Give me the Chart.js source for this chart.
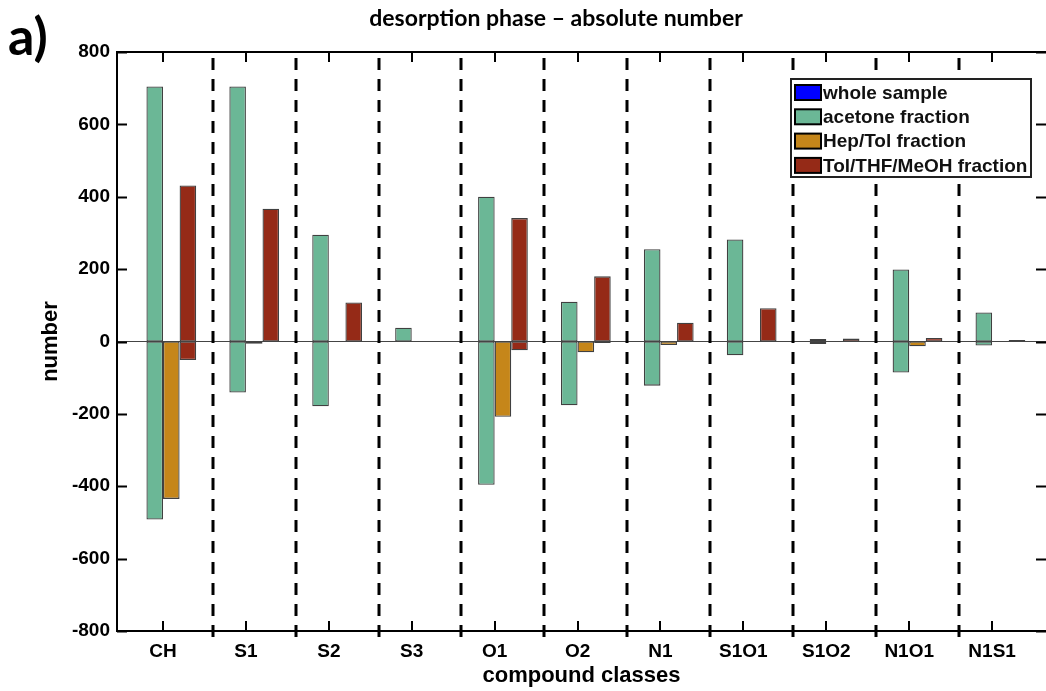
<!DOCTYPE html>
<html>
<head>
<meta charset="utf-8">
<title>desorption phase – absolute number</title>
<script src="https://cdn.jsdelivr.net/npm/chart.js@4.4.0/dist/chart.umd.min.js"></script>
<style>
  html, body { margin: 0; padding: 0; background: #fff; }
  .chart__container { position: relative; width: 1046px; height: 691px; }
</style>
</head>
<body>
<div class="chart__container"><canvas id="desorptionChart" width="1046" height="691"></canvas></div>
<script>
// compound classes on the x axis
const categories = ['CH', 'S1', 'S2', 'S3', 'O1', 'O2', 'N1', 'S1O1', 'S1O2', 'N1O1', 'N1S1'];

// gained (positive) and lost (negative) numbers per fraction
const wholeSample = [0, 0, 0, 0, 0, 0, 0, 0, 0, 0, 0];
const acetonePos = [705, 705, 295, 38, 400, 110, 255, 282, 7, 199, 80];
const acetoneNeg = [-492, -141, -179, 0, -396, -176, -122, -38, -7, -86, -11];
const hepTolPos = [0, 0, 0, 0, 0, 0, 0, 0, 0, 0, 0];
const hepTolNeg = [-435, -6, 0, 0, -208, -30, -10, 0, 0, -13, 0];
const tolThfPos = [431, 367, 108, 0, 341, 180, 52, 92, 8, 10, 4];
const tolThfNeg = [-51, 0, 0, 0, -24, -4, 0, 0, 0, 0, 0];

const yTicks = [-800, -600, -400, -200, 0, 200, 400, 600, 800];

const seriesNames = ['whole sample', 'acetone fraction', 'Hep/Tol fraction', 'Tol/THF/MeOH fraction'];
const seriesColors = ['#0000ff', '#6bb796', '#c5861a', '#952a17'];

const tickFont = { family: '"Liberation Sans", Arial, sans-serif', weight: 'bold', size: 19 };
const labelFont = { family: '"Liberation Sans", Arial, sans-serif', weight: 'bold', size: 22 };

// dashed separators sit a bit right of the middle between two classes
const dividerOffset = 0.6;

document.addEventListener('DOMContentLoaded', function () {
  createChart();
});

function toPoints(values) {
  return values.map((v, i) => ({ x: i + 1, y: v === 0 ? null : v }));
}

function barSet(label, values, color, stack) {
  return {
    label: label,
    data: toPoints(values),
    backgroundColor: color,
    borderColor: 'rgba(30,30,30,0.85)',
    borderWidth: 1.3,
    borderSkipped: false,
    stack: stack,
    categoryPercentage: 0.8,
    barPercentage: 1,
  };
}

// frame, dashed separators, zero line, legend and headings
const decorations = {
  id: 'decorations',
  afterDatasetsDraw(chart) {
    const { ctx, chartArea: area, scales } = chart;
    const x = scales.x;
    const y = scales.y;

    // zero line
    ctx.save();
    ctx.strokeStyle = '#444';
    ctx.lineWidth = 1.2;
    ctx.beginPath();
    ctx.moveTo(area.left, y.getPixelForValue(0));
    ctx.lineTo(area.right, y.getPixelForValue(0));
    ctx.stroke();

    // dashed separators between classes
    ctx.strokeStyle = '#000';
    ctx.lineWidth = 3;
    ctx.setLineDash([12, 9]);
    for (let i = 1; i < categories.length; i++) {
      const px = Math.round(x.getPixelForValue(i + dividerOffset));
      ctx.beginPath();
      ctx.moveTo(px, area.top + 6);
      ctx.lineTo(px, area.bottom + 6);
      ctx.stroke();
    }
    ctx.setLineDash([]);
    ctx.restore();

    drawLegend(ctx);
  },
  afterDraw(chart) {
    const { ctx, chartArea: area, scales } = chart;
    const x = scales.x;
    const y = scales.y;
    ctx.save();
    ctx.strokeStyle = '#000';
    ctx.lineWidth = 2;
    ctx.beginPath();
    ctx.moveTo(area.right + 2, area.top);
    ctx.lineTo(area.left, area.top);
    ctx.lineTo(area.left, area.bottom);
    ctx.lineTo(area.right + 2, area.bottom);
    ctx.stroke();

    // inward ticks on all four sides
    ctx.beginPath();
    yTicks.forEach(v => {
      const py = Math.round(y.getPixelForValue(v)) + 0.5;
      ctx.moveTo(area.left, py);
      ctx.lineTo(area.left + 10, py);
      ctx.moveTo(area.right, py);
      ctx.lineTo(area.right - 10, py);
    });
    categories.forEach((c, i) => {
      const px = Math.round(x.getPixelForValue(i + 1));
      ctx.moveTo(px, area.bottom);
      ctx.lineTo(px, area.bottom - 10);
      ctx.moveTo(px, area.top);
      ctx.lineTo(px, area.top + 10);
    });
    ctx.stroke();

    // headings
    ctx.fillStyle = '#000';
    ctx.textBaseline = 'alphabetic';
    ctx.textAlign = 'center';
    ctx.font = 'bold 23px Lato, "Open Sans", sans-serif';
    ctx.fillText('desorption phase – absolute number', 556, 26);
    ctx.textAlign = 'left';
    ctx.font = 'bold 52px Lato, "Open Sans", sans-serif';
    ctx.fillText('a)', 8, 55);
    ctx.restore();
  },
};

function drawLegend(ctx) {
  const box = { left: 791, top: 79, width: 240, height: 98 };
  ctx.save();
  ctx.fillStyle = '#fff';
  ctx.fillRect(box.left, box.top, box.width, box.height);
  ctx.strokeStyle = '#222';
  ctx.lineWidth = 2;
  ctx.strokeRect(box.left, box.top, box.width, box.height);

  ctx.font = 'bold 19px "Liberation Sans", Arial, sans-serif';
  ctx.textBaseline = 'middle';
  ctx.textAlign = 'left';
  seriesNames.forEach((name, i) => {
    const rowY = box.top + 13.5 + i * 24.3;
    ctx.fillStyle = seriesColors[i];
    ctx.fillRect(box.left + 4, rowY - 7.5, 26, 15);
    ctx.strokeStyle = '#000';
    ctx.lineWidth = 2;
    ctx.strokeRect(box.left + 4, rowY - 7.5, 26, 15);
    ctx.fillStyle = '#111';
    ctx.fillText(name, box.left + 32, rowY + 1);
  });
  ctx.restore();
}

function createChart() {
  const ctx = document.getElementById('desorptionChart').getContext('2d');
  new Chart(ctx, {
    type: 'bar',
    data: {
      datasets: [
        barSet(seriesNames[0], wholeSample, seriesColors[0], 'whole'),
        barSet(seriesNames[1], acetonePos, seriesColors[1], 'acetone'),
        barSet(seriesNames[1], acetoneNeg, seriesColors[1], 'acetone'),
        barSet(seriesNames[2], hepTolPos, seriesColors[2], 'heptol'),
        barSet(seriesNames[2], hepTolNeg, seriesColors[2], 'heptol'),
        barSet(seriesNames[3], tolThfPos, seriesColors[3], 'tolthf'),
        barSet(seriesNames[3], tolThfNeg, seriesColors[3], 'tolthf'),
      ],
    },
    options: {
      responsive: false,
      animation: false,
      layout: { padding: { top: 52, right: 0, left: 0, bottom: 0 } },
      plugins: {
        legend: { display: false },
        tooltip: { enabled: false },
        title: { display: false },
      },
      scales: {
        x: {
          type: 'linear',
          stacked: true,
          offset: false,
          min: 0.445,
          max: 11.65,
          afterBuildTicks: axis => {
            axis.ticks = categories.map((c, i) => ({ value: i + 1 }));
          },
          afterFit: axis => {
            axis.height = 60;
          },
          ticks: {
            callback: v => categories[v - 1],
            color: '#000',
            font: tickFont,
            padding: 9,
            maxRotation: 0,
            autoSkip: false,
          },
          grid: { display: false, drawTicks: false },
          border: { display: false },
          title: {
            display: true,
            text: 'compound classes',
            color: '#000',
            font: labelFont,
            padding: { top: 0, bottom: 2 },
          },
        },
        y: {
          stacked: true,
          min: -800,
          max: 800,
          afterBuildTicks: axis => {
            axis.ticks = yTicks.map(v => ({ value: v }));
          },
          afterFit: axis => {
            axis.width = 117;
          },
          ticks: {
            color: '#000',
            font: tickFont,
            padding: 7,
          },
          grid: { display: false, drawTicks: false },
          border: { display: false },
          title: {
            display: true,
            text: 'number',
            color: '#000',
            font: labelFont,
            padding: { top: 38, bottom: 0 },
          },
        },
      },
    },
    plugins: [decorations],
  });
}
</script>
</body>
</html>
